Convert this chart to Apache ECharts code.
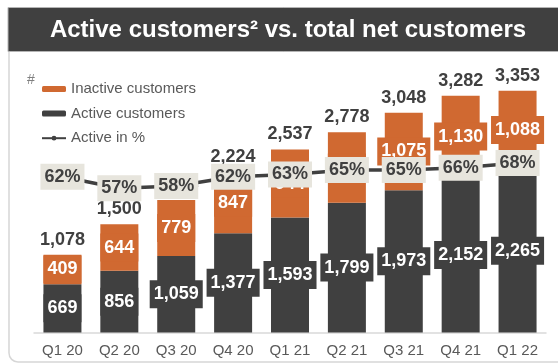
<!DOCTYPE html>
<html>
<head>
<meta charset="utf-8">
<style>
  html, body { margin: 0; padding: 0; background: #ffffff; }
  #chart { width: 558px; height: 364px; }
</style>
<script src="https://cdn.jsdelivr.net/npm/echarts@6/dist/echarts.min.js"></script>
</head>
<body>
<div id="chart"></div>
<script>
// Quarterly customer counts (thousands not implied; values as reported)
const quarters = ['Q1 20', 'Q2 20', 'Q3 20', 'Q4 20', 'Q1 21', 'Q2 21', 'Q3 21', 'Q4 21', 'Q1 22'];
const activeCustomers = [669, 856, 1059, 1377, 1593, 1799, 1973, 2152, 2265];
const inactiveCustomers = [409, 644, 779, 847, 944, 979, 1075, 1130, 1088];
const totalCustomers = [1078, 1500, 1838, 2224, 2537, 2778, 3048, 3282, 3353];
const activePct = [62, 57, 58, 62, 63, 65, 65, 66, 68];

const FONT = '"Liberation Sans", Arial, sans-serif';
const ORANGE = '#d06931';
const DARK = '#404040';
const PCT_BG = '#e7e5dd';

const fmtNum = v => Number(v).toLocaleString('en-US');

const chart = echarts.init(document.getElementById('chart'), null, { renderer: 'canvas' });

const barLabel = (bg) => ({
  show: true,
  position: 'inside',
  formatter: p => fmtNum(p.value),
  color: '#ffffff',
  fontFamily: FONT,
  fontWeight: 'bold',
  fontSize: 18,
  lineHeight: 20,
  backgroundColor: bg,
  padding: [4, 4]
});

chart.setOption({
  animation: false,
  textStyle: { fontFamily: FONT },
  graphic: [
    {
      type: 'rect',
      z: 0,
      shape: { x: 9, y: 30, width: 620, height: 332, r: 9 },
      style: { fill: 'none', stroke: '#d6d6d6', lineWidth: 1.5 }
    },
    {
      type: 'rect',
      z: 1,
      shape: { x: 8, y: 7.5, width: 560, height: 44 },
      style: { fill: '#404040', stroke: '#b4b4b4', lineWidth: 1 }
    },
    {
      type: 'text',
      z: 2,
      x: 288,
      y: 30,
      style: {
        text: 'Active customers\u00B2 vs. total net customers',
        fill: '#ffffff',
        font: 'bold 24px ' + FONT,
        textAlign: 'center',
        textVerticalAlign: 'middle'
      }
    },
    {
      type: 'text',
      z: 2,
      x: 31,
      y: 80,
      style: {
        text: '#',
        fill: '#808080',
        font: '14px ' + FONT,
        textAlign: 'center',
        textVerticalAlign: 'middle'
      }
    }
  ],
  legend: {
    orient: 'vertical',
    left: 41,
    top: 81,
    padding: 0,
    itemWidth: 24,
    itemHeight: 6,
    itemGap: 8.6,
    selectedMode: false,
    data: ['Inactive customers', 'Active customers', 'Active in %'],
    textStyle: { color: '#595959', fontSize: 15, lineHeight: 16, fontFamily: FONT }
  },
  grid: { left: 34, right: 12, top: 44, bottom: 31.5 },
  xAxis: {
    type: 'category',
    data: quarters,
    axisLine: { lineStyle: { color: '#d9d9d9', width: 1.5 } },
    axisTick: { show: false },
    axisLabel: { color: '#595959', fontSize: 15, margin: 11, fontFamily: FONT }
  },
  yAxis: [
    { type: 'value', min: 0, max: 4000, show: false, splitLine: { show: false } },
    { type: 'value', min: -6, max: 120, show: false, splitLine: { show: false } }
  ],
  series: [
    {
      name: 'Active customers',
      type: 'bar',
      stack: 'customers',
      barWidth: 38,
      barGap: '-100%',
      data: activeCustomers,
      itemStyle: { color: DARK },
      label: barLabel(DARK),
      z: 2
    },
    {
      name: 'Inactive customers',
      type: 'bar',
      stack: 'customers',
      barWidth: 38,
      barGap: '-100%',
      data: inactiveCustomers,
      itemStyle: { color: ORANGE },
      label: barLabel(ORANGE),
      z: 2
    },
    {
      name: 'Total',
      type: 'bar',
      barWidth: 38,
      barGap: '-100%',
      data: totalCustomers,
      silent: true,
      itemStyle: { color: 'rgba(0,0,0,0)' },
      label: {
        show: true,
        position: 'top',
        distance: 6,
        formatter: p => fmtNum(p.value),
        color: DARK,
        fontFamily: FONT,
        fontWeight: 'bold',
        fontSize: 18
      },
      z: 1
    },
    {
      name: 'Active in %',
      type: 'line',
      yAxisIndex: 1,
      data: activePct,
      symbol: 'circle',
      symbolSize: 7,
      itemStyle: { color: DARK },
      lineStyle: { color: DARK, width: 3.5 },
      label: {
        show: true,
        position: 'inside',
        formatter: p => p.value + '%',
        color: DARK,
        fontFamily: FONT,
        fontWeight: 'bold',
        fontSize: 18,
        lineHeight: 20,
        backgroundColor: PCT_BG,
        padding: [3, 4]
      },
      z: 10
    }
  ]
});
</script>
</body>
</html>
